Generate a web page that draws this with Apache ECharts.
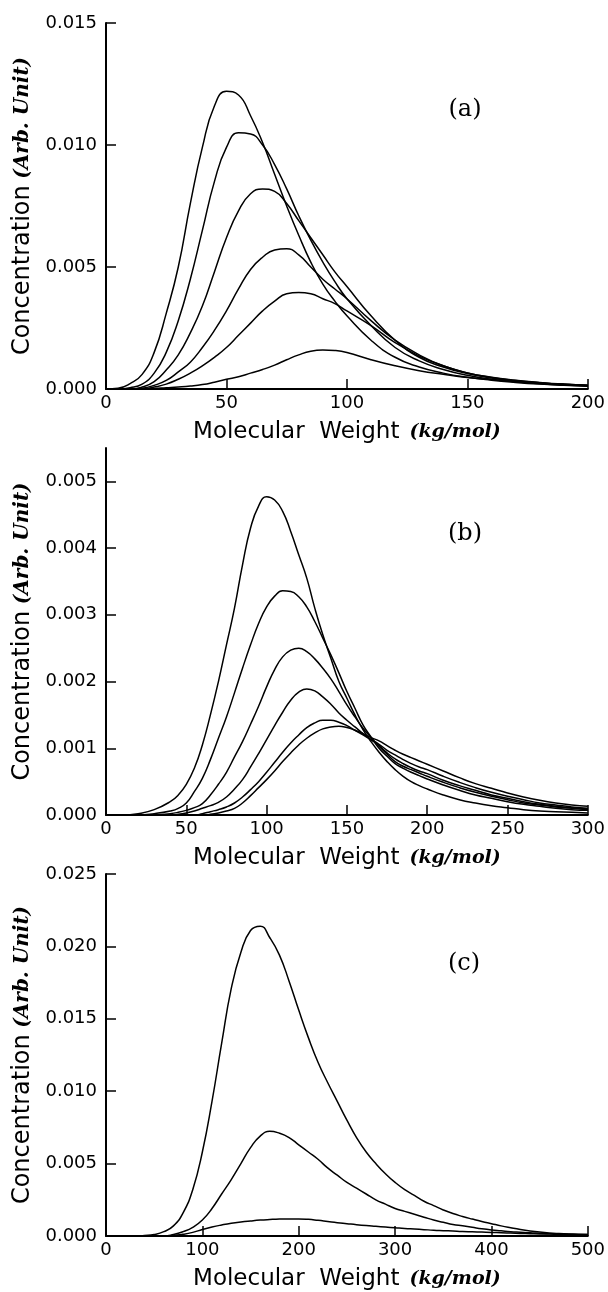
<!DOCTYPE html>
<html><head><meta charset="utf-8">
<script src="https://cdn.jsdelivr.net/npm/echarts@6/dist/echarts.min.js"></script>
<style>html,body{margin:0;padding:0;background:#fff}#c{width:608px;height:1292px}</style>
</head><body><div id="c"></div>
<script>
// ---------- Panel (a) ----------
const xA = [0,5,10,15,20,25,30,35,40,45,50,55,60,65,70,75,80,85,90,95,100,110,120,130,140,150,160,170,180,190,200];
const a1 = [0,0.00003,0.00022,0.0006,0.0015,0.0031,0.0050,0.0076,0.0099,0.0116,0.0122,0.01205,0.0112,0.0101,0.0088,0.0075,0.0063,0.0052,0.0043,0.0036,0.0030,0.0020,0.0013,0.0009,0.00065,0.00048,0.00036,0.00027,0.0002,0.00015,0.00011];
const a2 = [0,0,0.00005,0.0002,0.00065,0.0015,0.0028,0.0045,0.0065,0.0085,0.0099,0.0105,0.01045,0.0100,0.0092,0.0082,0.0071,0.0061,0.0052,0.0044,0.0037,0.0026,0.0017,0.00115,0.0008,0.00056,0.0004,0.0003,0.00022,0.00016,0.00012];
const a3 = [0,0,0,0.00008,0.0003,0.00078,0.0014,0.0023,0.0034,0.0048,0.0062,0.0073,0.0080,0.0082,0.0081,0.0076,0.0069,0.0062,0.0055,0.0048,0.0042,0.0030,0.0020,0.0013,0.0009,0.00063,0.00045,0.00033,0.00024,0.00018,0.00013];
const a4 = [0,0,0,0.00003,0.00015,0.00035,0.0007,0.0011,0.0017,0.0024,0.0032,0.0041,0.0049,0.0054,0.0057,0.00575,0.0055,0.0050,0.0045,0.0041,0.0037,0.0028,0.0020,0.0014,0.00095,0.00066,0.00047,0.00035,0.00026,0.00019,0.00014];
const a5 = [0,0,0,0,0.00008,0.0002,0.0004,0.00065,0.00095,0.0013,0.0017,0.0022,0.0027,0.0032,0.0036,0.0039,0.00395,0.0039,0.0037,0.0035,0.0032,0.0026,0.0019,0.00135,0.00095,0.00066,0.00048,0.00036,0.00027,0.0002,0.00015];
const a6 = [0,0,0,0,0.00002,0.00005,0.00008,0.00012,0.00018,0.00028,0.0004,0.0005,0.00065,0.0008,0.00098,0.0012,0.0014,0.00155,0.0016,0.00158,0.0015,0.0012,0.00095,0.00075,0.0006,0.00047,0.00038,0.0003,0.00024,0.00019,0.00015];

// ---------- Panel (b) ----------
const xB = [0,10,20,30,40,45,50,55,60,65,70,75,80,85,90,95,100,105,110,115,120,125,130,135,140,145,150,155,160,165,170,175,180,185,190,195,200,210,220,230,240,250,260,270,280,290,300];
const b1 = [0,0,0.00002,0.00008,0.0002,0.0003,0.00046,0.0007,0.00105,0.0015,0.0020,0.00255,0.0031,0.00375,0.0043,0.00463,0.00477,0.00472,0.00455,0.00425,0.0039,0.00355,0.0031,0.0027,0.00235,0.002,0.00175,0.0015,0.00128,0.0011,0.00094,0.0008,0.00068,0.00058,0.0005,0.00044,0.00039,0.0003,0.00023,0.00018,0.00014,0.00011,0.00008,0.00006,0.00005,0.00004,0.00003];
const b2 = [0,0,0,0.00002,0.00006,0.0001,0.00018,0.00035,0.00055,0.00083,0.00115,0.00147,0.00183,0.0022,0.00255,0.00287,0.00312,0.00328,0.00336,0.00335,0.00327,0.00312,0.0029,0.00265,0.0024,0.00213,0.00185,0.0016,0.00135,0.00117,0.001,0.00088,0.00077,0.0007,0.00064,0.00059,0.00054,0.00045,0.00037,0.0003,0.00025,0.0002,0.00016,0.00013,0.0001,0.00008,0.00007];
const b3 = [0,0,0,0,0.00002,0.00004,0.00007,0.00011,0.00017,0.0003,0.00046,0.00064,0.00087,0.0011,0.00136,0.00163,0.00192,0.00218,0.00237,0.00247,0.0025,0.00245,0.00234,0.0022,0.00204,0.00185,0.00165,0.00147,0.0013,0.00116,0.00103,0.00091,0.0008,0.00073,0.00068,0.00063,0.00058,0.00049,0.00041,0.00034,0.00028,0.00023,0.00018,0.00015,0.00012,0.0001,0.00008];
const b4 = [0,0,0,0,0,0.00001,0.00003,0.00006,0.0001,0.00014,0.00019,0.00027,0.00039,0.00053,0.00072,0.00092,0.00113,0.00134,0.00154,0.00172,0.00184,0.00189,0.00186,0.00177,0.00166,0.00153,0.00142,0.00132,0.00122,0.00113,0.00104,0.00093,0.00084,0.00077,0.00071,0.00066,0.00062,0.00052,0.00044,0.00037,0.0003,0.00025,0.0002,0.00016,0.00013,0.00011,0.00009];
const b5 = [0,0,0,0,0,0,0,0,0.00002,0.00005,0.00008,0.00012,0.00018,0.00027,0.00038,0.0005,0.00064,0.00079,0.00094,0.00108,0.0012,0.00131,0.00138,0.00142,0.00142,0.00139,0.00134,0.00127,0.0012,0.00113,0.00106,0.00097,0.0009,0.00083,0.00077,0.00072,0.00068,0.00058,0.00049,0.00041,0.00034,0.00028,0.00023,0.00018,0.00015,0.00012,0.0001];
const b6 = [0,0,0,0,0,0,0,0,0,0.00001,0.00003,0.00006,0.0001,0.00018,0.00029,0.00041,0.00053,0.00066,0.0008,0.00093,0.00105,0.00115,0.00123,0.00129,0.00132,0.00133,0.00131,0.00127,0.00122,0.00116,0.00111,0.00104,0.00097,0.00091,0.00086,0.00081,0.00076,0.00066,0.00056,0.00047,0.0004,0.00033,0.00027,0.00022,0.00018,0.00015,0.00013];

// ---------- Panel (c) ----------
const xC = [0,10,20,30,40,50,60,70,80,90,100,110,120,130,140,150,160,170,180,190,200,210,220,230,240,250,260,270,280,290,300,310,320,330,340,350,360,370,380,390,400,410,420,430,440,450,460,470,480,490,500];
const c1 = [0,0,0,0,0.00003,0.0001,0.0003,0.0007,0.0016,0.0032,0.0058,0.0093,0.0133,0.0171,0.0196,0.0211,0.0214,0.0206,0.0194,0.0176,0.0156,0.0137,0.0120,0.0106,0.0093,0.0080,0.0068,0.0058,0.0050,0.0043,0.0037,0.0032,0.0028,0.0024,0.0021,0.0018,0.00155,0.00135,0.00117,0.001,0.00085,0.0007,0.00057,0.00045,0.00035,0.00027,0.00021,0.00017,0.00014,0.00012,0.0001];
const c2 = [0,0,0,0,0,0,0,0.0001,0.0003,0.0006,0.0011,0.0019,0.0029,0.0039,0.0050,0.0061,0.0069,0.00723,0.0071,0.0068,0.0063,0.0058,0.0053,0.0047,0.0042,0.0037,0.0033,0.0029,0.0025,0.0022,0.0019,0.0017,0.0015,0.0013,0.0011,0.00095,0.0008,0.0007,0.0006,0.0005,0.00042,0.00036,0.0003,0.00026,0.00022,0.00019,0.00016,0.00014,0.00012,0.00011,0.0001];
const c3 = [0,0,0,0,0,0,0,0.00005,0.00012,0.00025,0.00045,0.00062,0.00076,0.00088,0.00097,0.00104,0.0011,0.00114,0.00117,0.00118,0.00118,0.00115,0.00108,0.001,0.00092,0.00085,0.00078,0.00072,0.00067,0.00062,0.00057,0.00052,0.00048,0.00044,0.0004,0.00037,0.00034,0.00031,0.00029,0.00027,0.00025,0.00022,0.0002,0.00018,0.00016,0.00014,0.00013,0.00011,0.0001,0.00009,0.00008];

// tick values
const yTicksA = [0,0.005,0.010,0.015];
const yTicksB = [0,0.001,0.002,0.003,0.004,0.005];
const yTicksC = [0,0.005,0.010,0.015,0.020,0.025];
const panelLabels = ['(a)','(b)','(c)'];

const chart = echarts.init(document.getElementById('c'), null, {renderer:'canvas'});

const sansFont = 'DejaVu Sans';
const xName = '{a|Molecular  Weight}   {b|(kg/mol)}';
const yName = '{a|Concentration}  {b|(Arb. Unit)}';
const richX = {
  a:{fontFamily:sansFont, fontSize:23, color:'#000'},
  b:{fontFamily:'DejaVu Serif', fontStyle:'italic', fontWeight:'bold', fontSize:19, color:'#000'}
};
const richY = {
  a:{fontFamily:sansFont, fontSize:24, color:'#000'},
  b:{fontFamily:'DejaVu Serif', fontStyle:'italic', fontWeight:'bold', fontSize:20, color:'#000'}
};

function xAxis(idx, max, interval){
  return {
    type:'value', gridIndex:idx, min:0, max:max, interval:interval,
    axisLine:{lineStyle:{color:'#000', width:2}},
    axisTick:{inside:true, length:10, lineStyle:{color:'#000', width:1.5}},
    axisLabel:{color:'#000', fontFamily:sansFont, fontSize:18, margin:5},
    splitLine:{show:false},
    name:xName, nameLocation:'middle', nameGap:32,
    nameTextStyle:{rich:richX}
  };
}
function yAxis(idx, max, ticks){
  return {
    type:'value', gridIndex:idx, min:0, max:max,
    axisLine:{show:true, lineStyle:{color:'#000', width:2}},
    axisTick:{show:true, inside:true, length:10, lineStyle:{color:'#000', width:1.5}, customValues:ticks},
    axisLabel:{color:'#000', fontFamily:sansFont, fontSize:18, margin:9, customValues:ticks,
      formatter:(v)=>v.toFixed(3)},
    splitLine:{show:false},
    name:yName, nameLocation:'middle', nameGap:64, nameRotate:90,
    nameTextStyle:{rich:richY}
  };
}
function pairs(xs, ys){ return xs.map((x,i)=>[x, ys[i]]); }
function line(xs, ys, idx){
  return {type:'line', xAxisIndex:idx, yAxisIndex:idx, data:pairs(xs,ys),
    showSymbol:false, smooth:0.5, silent:true,
    lineStyle:{color:'#000', width:1.5}};
}

const series = [];
[a1,a2,a3,a4,a5,a6].forEach(s=>series.push(line(xA,s,0)));
[b1,b2,b3,b4,b5,b6].forEach(s=>series.push(line(xB,s,1)));
[c1,c2,c3].forEach(s=>series.push(line(xC,s,2)));

const labelPos = [[465,110],[465,534],[464,964]];

chart.setOption({
  animation:false,
  backgroundColor:'#fff',
  grid:[
    {left:106, top:23, width:483, height:366},
    {left:106, top:448, width:483, height:367},
    {left:106, top:874, width:483, height:367}
  ],
  xAxis:[xAxis(0,200,50), xAxis(1,300,50), xAxis(2,500,100)],
  yAxis:[yAxis(0,0.015,yTicksA), yAxis(1,0.0055,yTicksB), yAxis(2,0.025,yTicksC)],
  series:series,
  graphic: panelLabels.map((t,i)=>({
    type:'text', x:labelPos[i][0], y:labelPos[i][1],
    style:{text:t, fontFamily:'DejaVu Serif', fontSize:24, fill:'#000', align:'center', verticalAlign:'middle'}
  }))
});
</script></body></html>
